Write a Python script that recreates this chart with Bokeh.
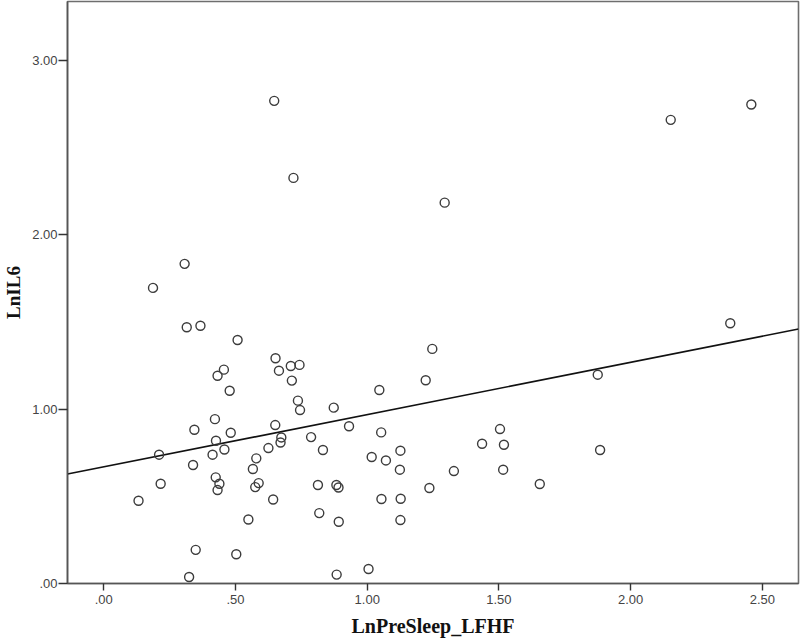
from bokeh.plotting import figure
from bokeh.models import FixedTicker, Range1d
from bokeh.embed import file_html
from bokeh.resources import INLINE

# LnPreSleep_LFHF (x) and LnIL6 (y) values
x_vals = [0.307, 0.187, 0.315, 0.367, 0.508, 0.652, 0.665, 0.710, 0.743, 0.714,
          0.456, 0.432, 0.478, 0.737, 0.745, 0.873, 0.422, 0.344, 0.482, 0.651,
          0.931, 0.210, 0.426, 0.413, 0.458, 0.339, 0.579, 0.566, 0.625, 0.674,
          0.671, 0.787, 0.832, 0.216, 0.425, 0.439, 0.432, 0.588, 0.575, 0.132,
          0.643, 0.813, 0.883, 0.891, 0.549, 0.818, 0.892, 0.349, 0.503, 0.324,
          0.884, 1.046, 1.222, 1.247, 1.053, 1.126, 1.017, 1.071, 1.124, 1.329,
          1.436, 1.504, 1.519, 1.516, 1.655, 1.236, 1.054, 1.127, 1.126, 1.005,
          1.884, 1.875, 2.378, 2.152, 2.458, 0.647, 0.720, 1.294]
y_vals = [1.834, 1.696, 1.470, 1.479, 1.397, 1.292, 1.221, 1.248, 1.254, 1.164,
          1.227, 1.192, 1.106, 1.049, 0.995, 1.009, 0.943, 0.882, 0.865, 0.909,
          0.902, 0.739, 0.819, 0.739, 0.769, 0.680, 0.718, 0.657, 0.777, 0.838,
          0.809, 0.840, 0.766, 0.572, 0.609, 0.572, 0.536, 0.576, 0.553, 0.475,
          0.482, 0.565, 0.565, 0.551, 0.367, 0.404, 0.354, 0.193, 0.168, 0.037,
          0.051, 1.110, 1.166, 1.346, 0.867, 0.762, 0.726, 0.706, 0.653, 0.645,
          0.802, 0.886, 0.796, 0.653, 0.571, 0.548, 0.485, 0.486, 0.364, 0.083,
          0.766, 1.198, 1.493, 2.660, 2.748, 2.769, 2.327, 2.185]

# fit line
fit_intercept = 0.669
fit_slope = 0.300

x_ticks = [0.0, 0.5, 1.0, 1.5, 2.0, 2.5]
x_tick_labels = [".00", ".50", "1.00", "1.50", "2.00", "2.50"]
y_ticks = [0.0, 1.0, 2.0, 3.0]
y_tick_labels = [".00", "1.00", "2.00", "3.00"]

x_start, x_end = -0.1376, 2.637
y_start, y_end = 0.0, 3.339

p = figure(width=800, height=640, output_backend="svg", toolbar_location=None,
           x_range=Range1d(x_start, x_end), y_range=Range1d(y_start, y_end),
           min_border_left=66, min_border_right=2, min_border_top=1,
           min_border_bottom=57)

p.xgrid.visible = False
p.ygrid.visible = False
p.background_fill_color = "white"
p.border_fill_color = "white"
p.outline_line_color = "#6e6e6e"
p.outline_line_width = 1.6

fx = [x_start, x_end]
fy = [fit_intercept + fit_slope * v for v in fx]
p.line(fx, fy, line_color="#111111", line_width=1.6)

p.scatter(x_vals, y_vals, marker="circle", size=9, fill_color=None,
          line_color="#3c3c3c", line_width=1.4)

for ax, ticks, labels in ((p.xaxis[0], x_ticks, x_tick_labels),
                          (p.yaxis[0], y_ticks, y_tick_labels)):
    ax.ticker = FixedTicker(ticks=ticks)
    ax.major_label_overrides = {t: l for t, l in zip(ticks, labels)}
    ax.minor_tick_line_color = None
    ax.axis_line_color = "#555555"
    ax.axis_line_width = 1.6
    ax.major_tick_line_color = "#333333"
    ax.major_tick_line_width = 1.4
    ax.major_tick_in = 0
    ax.major_label_text_font = "Liberation Sans"
    ax.major_label_text_font_size = "13px"
    ax.major_label_text_color = "#444444"
    ax.axis_label_text_font = "Liberation Serif"
    ax.axis_label_text_font_style = "bold"
    ax.axis_label_text_color = "#111111"

p.xaxis.axis_label = "LnPreSleep_LFHF"
p.xaxis.axis_label_text_font_size = "20px"
p.xaxis.major_tick_out = 7
p.xaxis.major_label_standoff = 4
p.xaxis.axis_label_standoff = 8

p.yaxis.axis_label = "LnIL6"
p.yaxis.axis_label_text_font_size = "19px"
p.yaxis.major_tick_out = 9
p.yaxis.major_label_standoff = 1
p.yaxis.axis_label_standoff = 5

open("out.html", "w").write(file_html(p, INLINE))
